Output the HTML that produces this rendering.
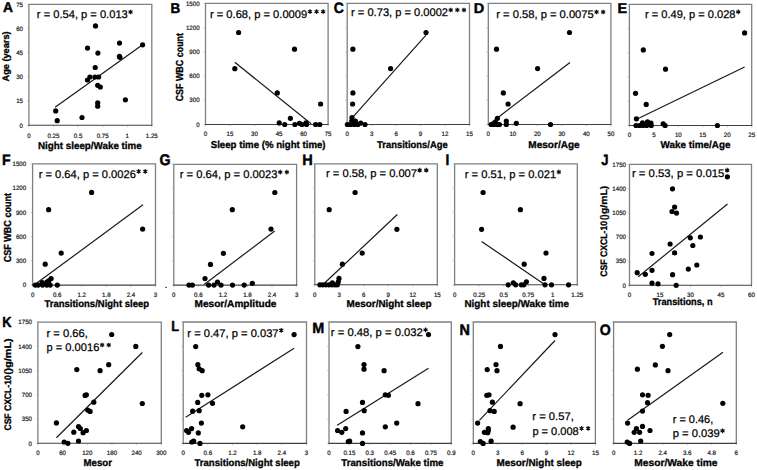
<!DOCTYPE html>
<html><head><meta charset="utf-8"><style>
html,body{margin:0;padding:0;background:#fff;}
svg{display:block;font-family:"Liberation Sans",sans-serif;}
</style></head><body>
<svg width="757" height="470" viewBox="0 0 757 470" text-rendering="geometricPrecision">
<rect width="757" height="470" fill="#fff"/>
<path d="M28.90,125.30V4.30H151.80V125.30" fill="none" stroke="#808080" stroke-width="1.3"/>
<line x1="26.90" y1="125.30" x2="28.90" y2="125.30" stroke="#aaa" stroke-width="0.6"/>
<line x1="26.90" y1="101.10" x2="28.90" y2="101.10" stroke="#aaa" stroke-width="0.6"/>
<line x1="26.90" y1="76.90" x2="28.90" y2="76.90" stroke="#aaa" stroke-width="0.6"/>
<line x1="26.90" y1="52.70" x2="28.90" y2="52.70" stroke="#aaa" stroke-width="0.6"/>
<line x1="26.90" y1="28.50" x2="28.90" y2="28.50" stroke="#aaa" stroke-width="0.6"/>
<line x1="26.90" y1="4.30" x2="28.90" y2="4.30" stroke="#aaa" stroke-width="0.6"/>
<line x1="28.90" y1="125.30" x2="28.90" y2="127.30" stroke="#aaa" stroke-width="0.6"/>
<line x1="53.48" y1="125.30" x2="53.48" y2="127.30" stroke="#aaa" stroke-width="0.6"/>
<line x1="78.06" y1="125.30" x2="78.06" y2="127.30" stroke="#aaa" stroke-width="0.6"/>
<line x1="102.64" y1="125.30" x2="102.64" y2="127.30" stroke="#aaa" stroke-width="0.6"/>
<line x1="127.22" y1="125.30" x2="127.22" y2="127.30" stroke="#aaa" stroke-width="0.6"/>
<line x1="151.80" y1="125.30" x2="151.80" y2="127.30" stroke="#aaa" stroke-width="0.6"/>
<line x1="28.30" y1="125.30" x2="152.40" y2="125.30" stroke="#404040" stroke-width="1.1"/>
<text x="28.90" y="137.51" font-size="6.3" text-anchor="middle" fill="#1a1a1a" stroke="#1a1a1a" stroke-width="0.2" textLength="3.42" lengthAdjust="spacingAndGlyphs">0</text>
<text x="53.48" y="137.51" font-size="6.3" text-anchor="middle" fill="#1a1a1a" stroke="#1a1a1a" stroke-width="0.2" textLength="11.97" lengthAdjust="spacingAndGlyphs">0.25</text>
<text x="78.06" y="137.51" font-size="6.3" text-anchor="middle" fill="#1a1a1a" stroke="#1a1a1a" stroke-width="0.2" textLength="8.55" lengthAdjust="spacingAndGlyphs">0.5</text>
<text x="102.64" y="137.51" font-size="6.3" text-anchor="middle" fill="#1a1a1a" stroke="#1a1a1a" stroke-width="0.2" textLength="11.97" lengthAdjust="spacingAndGlyphs">0.75</text>
<text x="127.22" y="137.51" font-size="6.3" text-anchor="middle" fill="#1a1a1a" stroke="#1a1a1a" stroke-width="0.2" textLength="3.42" lengthAdjust="spacingAndGlyphs">1</text>
<text x="151.80" y="137.51" font-size="6.3" text-anchor="middle" fill="#1a1a1a" stroke="#1a1a1a" stroke-width="0.2" textLength="11.97" lengthAdjust="spacingAndGlyphs">1.25</text>
<text x="23.00" y="127.50" font-size="6.3" text-anchor="end" fill="#1a1a1a" stroke="#1a1a1a" stroke-width="0.2" textLength="3.42" lengthAdjust="spacingAndGlyphs">0</text>
<text x="23.00" y="103.30" font-size="6.3" text-anchor="end" fill="#1a1a1a" stroke="#1a1a1a" stroke-width="0.2" textLength="6.84" lengthAdjust="spacingAndGlyphs">15</text>
<text x="23.00" y="79.11" font-size="6.3" text-anchor="end" fill="#1a1a1a" stroke="#1a1a1a" stroke-width="0.2" textLength="6.84" lengthAdjust="spacingAndGlyphs">30</text>
<text x="23.00" y="54.91" font-size="6.3" text-anchor="end" fill="#1a1a1a" stroke="#1a1a1a" stroke-width="0.2" textLength="6.84" lengthAdjust="spacingAndGlyphs">45</text>
<text x="23.00" y="30.70" font-size="6.3" text-anchor="end" fill="#1a1a1a" stroke="#1a1a1a" stroke-width="0.2" textLength="6.84" lengthAdjust="spacingAndGlyphs">60</text>
<text x="23.00" y="6.50" font-size="6.3" text-anchor="end" fill="#1a1a1a" stroke="#1a1a1a" stroke-width="0.2" textLength="6.84" lengthAdjust="spacingAndGlyphs">75</text>
<line x1="55.1" y1="107.2" x2="142.6" y2="44.8" stroke="#1a1a1a" stroke-width="1.2"/>
<circle cx="95.5" cy="25.9" r="2.6"/>
<circle cx="87.5" cy="48.1" r="2.6"/>
<circle cx="97.9" cy="53.1" r="2.6"/>
<circle cx="119.5" cy="43.1" r="2.6"/>
<circle cx="142.6" cy="44.8" r="2.6"/>
<circle cx="119.5" cy="56.4" r="2.6"/>
<circle cx="119.9" cy="57.3" r="2.6"/>
<circle cx="95.2" cy="67.5" r="2.6"/>
<circle cx="89.9" cy="77.0" r="2.6"/>
<circle cx="94.9" cy="77.0" r="2.6"/>
<circle cx="98.6" cy="77.0" r="2.6"/>
<circle cx="87.5" cy="80.0" r="2.6"/>
<circle cx="97.7" cy="85.3" r="2.6"/>
<circle cx="100.3" cy="87.0" r="2.6"/>
<circle cx="97.7" cy="102.9" r="2.6"/>
<circle cx="97.7" cy="106.2" r="2.6"/>
<circle cx="125.4" cy="99.8" r="2.6"/>
<circle cx="55.7" cy="110.9" r="2.6"/>
<circle cx="57.2" cy="120.7" r="2.6"/>
<circle cx="82.0" cy="117.5" r="2.6"/>
<text x="36.88" y="18.30" font-size="11.1" font-weight="normal" fill="#000" stroke="#000" stroke-width="0.25" textLength="90.90" lengthAdjust="spacingAndGlyphs">r = 0.54, p = 0.013</text>
<path d="M130.55,9.65L130.55,14.35M128.51,10.82L132.59,13.18M132.59,10.82L128.51,13.18" stroke="#111" stroke-width="1.2" fill="none"/>
<circle cx="130.55" cy="12.00" r="1.15" fill="#111"/>
<text x="3.06" y="12.40" font-size="14.35" font-weight="bold" fill="#000" stroke="#000" stroke-width="0.45" textLength="9.92" lengthAdjust="spacingAndGlyphs">A</text>
<text x="37.96" y="148.70" font-size="10.0" font-weight="bold" fill="#000" stroke="#000" stroke-width="0.3" textLength="103.80" lengthAdjust="spacingAndGlyphs">Night sleep/Wake time</text>
<text transform="translate(9.10,81.30) rotate(-90)" x="-0.23" y="0" font-size="9.4" font-weight="bold" fill="#000" stroke="#000" stroke-width="0.3" textLength="50.16" lengthAdjust="spacingAndGlyphs">Age (years)</text>
<path d="M205.50,124.50V3.40H328.10V124.50" fill="none" stroke="#808080" stroke-width="1.3"/>
<line x1="203.50" y1="124.50" x2="205.50" y2="124.50" stroke="#aaa" stroke-width="0.6"/>
<line x1="203.50" y1="100.28" x2="205.50" y2="100.28" stroke="#aaa" stroke-width="0.6"/>
<line x1="203.50" y1="76.06" x2="205.50" y2="76.06" stroke="#aaa" stroke-width="0.6"/>
<line x1="203.50" y1="51.84" x2="205.50" y2="51.84" stroke="#aaa" stroke-width="0.6"/>
<line x1="203.50" y1="27.62" x2="205.50" y2="27.62" stroke="#aaa" stroke-width="0.6"/>
<line x1="203.50" y1="3.40" x2="205.50" y2="3.40" stroke="#aaa" stroke-width="0.6"/>
<line x1="205.50" y1="124.50" x2="205.50" y2="126.50" stroke="#aaa" stroke-width="0.6"/>
<line x1="230.02" y1="124.50" x2="230.02" y2="126.50" stroke="#aaa" stroke-width="0.6"/>
<line x1="254.54" y1="124.50" x2="254.54" y2="126.50" stroke="#aaa" stroke-width="0.6"/>
<line x1="279.06" y1="124.50" x2="279.06" y2="126.50" stroke="#aaa" stroke-width="0.6"/>
<line x1="303.58" y1="124.50" x2="303.58" y2="126.50" stroke="#aaa" stroke-width="0.6"/>
<line x1="328.10" y1="124.50" x2="328.10" y2="126.50" stroke="#aaa" stroke-width="0.6"/>
<line x1="204.90" y1="124.50" x2="328.70" y2="124.50" stroke="#404040" stroke-width="1.1"/>
<text x="205.50" y="136.31" font-size="6.3" text-anchor="middle" fill="#1a1a1a" stroke="#1a1a1a" stroke-width="0.2" textLength="3.42" lengthAdjust="spacingAndGlyphs">0</text>
<text x="230.02" y="136.31" font-size="6.3" text-anchor="middle" fill="#1a1a1a" stroke="#1a1a1a" stroke-width="0.2" textLength="6.84" lengthAdjust="spacingAndGlyphs">15</text>
<text x="254.54" y="136.31" font-size="6.3" text-anchor="middle" fill="#1a1a1a" stroke="#1a1a1a" stroke-width="0.2" textLength="6.84" lengthAdjust="spacingAndGlyphs">30</text>
<text x="279.06" y="136.31" font-size="6.3" text-anchor="middle" fill="#1a1a1a" stroke="#1a1a1a" stroke-width="0.2" textLength="6.84" lengthAdjust="spacingAndGlyphs">45</text>
<text x="303.58" y="136.31" font-size="6.3" text-anchor="middle" fill="#1a1a1a" stroke="#1a1a1a" stroke-width="0.2" textLength="6.84" lengthAdjust="spacingAndGlyphs">60</text>
<text x="328.10" y="136.31" font-size="6.3" text-anchor="middle" fill="#1a1a1a" stroke="#1a1a1a" stroke-width="0.2" textLength="6.84" lengthAdjust="spacingAndGlyphs">75</text>
<text x="199.60" y="126.70" font-size="6.3" text-anchor="end" fill="#1a1a1a" stroke="#1a1a1a" stroke-width="0.2" textLength="3.42" lengthAdjust="spacingAndGlyphs">0</text>
<text x="199.60" y="102.48" font-size="6.3" text-anchor="end" fill="#1a1a1a" stroke="#1a1a1a" stroke-width="0.2" textLength="10.26" lengthAdjust="spacingAndGlyphs">300</text>
<text x="199.60" y="78.27" font-size="6.3" text-anchor="end" fill="#1a1a1a" stroke="#1a1a1a" stroke-width="0.2" textLength="10.26" lengthAdjust="spacingAndGlyphs">600</text>
<text x="199.60" y="54.05" font-size="6.3" text-anchor="end" fill="#1a1a1a" stroke="#1a1a1a" stroke-width="0.2" textLength="10.26" lengthAdjust="spacingAndGlyphs">900</text>
<text x="199.60" y="29.83" font-size="6.3" text-anchor="end" fill="#1a1a1a" stroke="#1a1a1a" stroke-width="0.2" textLength="13.68" lengthAdjust="spacingAndGlyphs">1200</text>
<text x="199.60" y="5.61" font-size="6.3" text-anchor="end" fill="#1a1a1a" stroke="#1a1a1a" stroke-width="0.2" textLength="13.68" lengthAdjust="spacingAndGlyphs">1500</text>
<line x1="234.8" y1="62.3" x2="311.1" y2="123.8" stroke="#1a1a1a" stroke-width="1.2"/>
<circle cx="238.6" cy="32.5" r="2.6"/>
<circle cx="294.5" cy="49.2" r="2.6"/>
<circle cx="234.8" cy="68.7" r="2.6"/>
<circle cx="277.3" cy="92.9" r="2.6"/>
<circle cx="320.6" cy="104.0" r="2.6"/>
<circle cx="290.4" cy="118.3" r="2.6"/>
<circle cx="279.2" cy="122.9" r="2.6"/>
<circle cx="284.7" cy="124.5" r="2.6"/>
<circle cx="294.9" cy="124.5" r="2.6"/>
<circle cx="299.5" cy="123.3" r="2.6"/>
<circle cx="301.9" cy="124.5" r="2.6"/>
<circle cx="306" cy="122.9" r="2.6"/>
<circle cx="306.5" cy="124.5" r="2.6"/>
<circle cx="315.6" cy="124.5" r="2.6"/>
<circle cx="319.8" cy="124.5" r="2.6"/>
<text x="209.98" y="17.90" font-size="11.1" font-weight="normal" fill="#000" stroke="#000" stroke-width="0.25" textLength="97.21" lengthAdjust="spacingAndGlyphs">r = 0.68, p = 0.0009</text>
<path d="M309.95,9.25L309.95,13.95M307.91,10.42L311.99,12.77M311.99,10.42L307.91,12.77" stroke="#111" stroke-width="1.2" fill="none"/>
<circle cx="309.95" cy="11.60" r="1.15" fill="#111"/>
<path d="M316.55,9.25L316.55,13.95M314.51,10.42L318.59,12.77M318.59,10.42L314.51,12.77" stroke="#111" stroke-width="1.2" fill="none"/>
<circle cx="316.55" cy="11.60" r="1.15" fill="#111"/>
<path d="M323.15,9.25L323.15,13.95M321.11,10.42L325.19,12.77M325.19,10.42L321.11,12.77" stroke="#111" stroke-width="1.2" fill="none"/>
<circle cx="323.15" cy="11.60" r="1.15" fill="#111"/>
<text x="170.43" y="12.60" font-size="14.2" font-weight="bold" fill="#000" stroke="#000" stroke-width="0.45" textLength="9.71" lengthAdjust="spacingAndGlyphs">B</text>
<text x="210.71" y="147.70" font-size="10.0" font-weight="bold" fill="#000" stroke="#000" stroke-width="0.3" textLength="114.88" lengthAdjust="spacingAndGlyphs">Sleep time (% night time)</text>
<text transform="translate(182.60,101.00) rotate(-90)" x="-0.36" y="0" font-size="10.2" font-weight="bold" fill="#000" stroke="#000" stroke-width="0.3" textLength="68.35" lengthAdjust="spacingAndGlyphs">CSF WBC count</text>
<path d="M347.20,124.50V3.40H469.50V124.50" fill="none" stroke="#808080" stroke-width="1.3"/>
<line x1="345.20" y1="124.50" x2="347.20" y2="124.50" stroke="#aaa" stroke-width="0.6"/>
<line x1="345.20" y1="100.28" x2="347.20" y2="100.28" stroke="#aaa" stroke-width="0.6"/>
<line x1="345.20" y1="76.06" x2="347.20" y2="76.06" stroke="#aaa" stroke-width="0.6"/>
<line x1="345.20" y1="51.84" x2="347.20" y2="51.84" stroke="#aaa" stroke-width="0.6"/>
<line x1="345.20" y1="27.62" x2="347.20" y2="27.62" stroke="#aaa" stroke-width="0.6"/>
<line x1="345.20" y1="3.40" x2="347.20" y2="3.40" stroke="#aaa" stroke-width="0.6"/>
<line x1="347.20" y1="124.50" x2="347.20" y2="126.50" stroke="#aaa" stroke-width="0.6"/>
<line x1="371.66" y1="124.50" x2="371.66" y2="126.50" stroke="#aaa" stroke-width="0.6"/>
<line x1="396.12" y1="124.50" x2="396.12" y2="126.50" stroke="#aaa" stroke-width="0.6"/>
<line x1="420.58" y1="124.50" x2="420.58" y2="126.50" stroke="#aaa" stroke-width="0.6"/>
<line x1="445.04" y1="124.50" x2="445.04" y2="126.50" stroke="#aaa" stroke-width="0.6"/>
<line x1="469.50" y1="124.50" x2="469.50" y2="126.50" stroke="#aaa" stroke-width="0.6"/>
<line x1="346.60" y1="124.50" x2="470.10" y2="124.50" stroke="#404040" stroke-width="1.1"/>
<text x="347.20" y="136.31" font-size="6.3" text-anchor="middle" fill="#1a1a1a" stroke="#1a1a1a" stroke-width="0.2" textLength="3.42" lengthAdjust="spacingAndGlyphs">0</text>
<text x="371.66" y="136.31" font-size="6.3" text-anchor="middle" fill="#1a1a1a" stroke="#1a1a1a" stroke-width="0.2" textLength="3.42" lengthAdjust="spacingAndGlyphs">3</text>
<text x="396.12" y="136.31" font-size="6.3" text-anchor="middle" fill="#1a1a1a" stroke="#1a1a1a" stroke-width="0.2" textLength="3.42" lengthAdjust="spacingAndGlyphs">6</text>
<text x="420.58" y="136.31" font-size="6.3" text-anchor="middle" fill="#1a1a1a" stroke="#1a1a1a" stroke-width="0.2" textLength="3.42" lengthAdjust="spacingAndGlyphs">9</text>
<text x="445.04" y="136.31" font-size="6.3" text-anchor="middle" fill="#1a1a1a" stroke="#1a1a1a" stroke-width="0.2" textLength="6.84" lengthAdjust="spacingAndGlyphs">12</text>
<text x="469.50" y="136.31" font-size="6.3" text-anchor="middle" fill="#1a1a1a" stroke="#1a1a1a" stroke-width="0.2" textLength="6.84" lengthAdjust="spacingAndGlyphs">15</text>
<line x1="352.6" y1="117.3" x2="426" y2="35.1" stroke="#1a1a1a" stroke-width="1.2"/>
<circle cx="352.9" cy="49.2" r="2.6"/>
<circle cx="426" cy="32.5" r="2.6"/>
<circle cx="390.6" cy="68.6" r="2.6"/>
<circle cx="352.9" cy="92.9" r="2.6"/>
<circle cx="352.6" cy="104" r="2.6"/>
<circle cx="352" cy="117.5" r="2.6"/>
<circle cx="347.4" cy="124.5" r="2.6"/>
<circle cx="350.6" cy="124.5" r="2.6"/>
<circle cx="354.4" cy="124.5" r="2.6"/>
<circle cx="357.8" cy="124.5" r="2.6"/>
<circle cx="355.4" cy="121" r="2.6"/>
<circle cx="351.7" cy="121" r="2.6"/>
<circle cx="360.7" cy="123.1" r="2.6"/>
<circle cx="365" cy="124.5" r="2.6"/>
<text x="351.08" y="16.30" font-size="11.1" font-weight="normal" fill="#000" stroke="#000" stroke-width="0.25" textLength="96.97" lengthAdjust="spacingAndGlyphs">r = 0.73, p = 0.0002</text>
<path d="M450.75,7.65L450.75,12.35M448.71,8.82L452.79,11.18M452.79,8.82L448.71,11.18" stroke="#111" stroke-width="1.2" fill="none"/>
<circle cx="450.75" cy="10.00" r="1.15" fill="#111"/>
<path d="M457.35,7.65L457.35,12.35M455.31,8.82L459.39,11.18M459.39,8.82L455.31,11.18" stroke="#111" stroke-width="1.2" fill="none"/>
<circle cx="457.35" cy="10.00" r="1.15" fill="#111"/>
<path d="M463.95,7.65L463.95,12.35M461.91,8.82L465.99,11.18M465.99,8.82L461.91,11.18" stroke="#111" stroke-width="1.2" fill="none"/>
<circle cx="463.95" cy="10.00" r="1.15" fill="#111"/>
<text x="333.84" y="13.05" font-size="15.07" font-weight="bold" fill="#000" stroke="#000" stroke-width="0.45" textLength="10.14" lengthAdjust="spacingAndGlyphs">C</text>
<text x="377.11" y="147.70" font-size="10.0" font-weight="bold" fill="#000" stroke="#000" stroke-width="0.3" textLength="70.54" lengthAdjust="spacingAndGlyphs">Transitions/Age</text>
<path d="M488.30,124.50V3.40H610.90V124.50" fill="none" stroke="#808080" stroke-width="1.3"/>
<line x1="486.30" y1="124.50" x2="488.30" y2="124.50" stroke="#aaa" stroke-width="0.6"/>
<line x1="486.30" y1="100.28" x2="488.30" y2="100.28" stroke="#aaa" stroke-width="0.6"/>
<line x1="486.30" y1="76.06" x2="488.30" y2="76.06" stroke="#aaa" stroke-width="0.6"/>
<line x1="486.30" y1="51.84" x2="488.30" y2="51.84" stroke="#aaa" stroke-width="0.6"/>
<line x1="486.30" y1="27.62" x2="488.30" y2="27.62" stroke="#aaa" stroke-width="0.6"/>
<line x1="486.30" y1="3.40" x2="488.30" y2="3.40" stroke="#aaa" stroke-width="0.6"/>
<line x1="488.30" y1="124.50" x2="488.30" y2="126.50" stroke="#aaa" stroke-width="0.6"/>
<line x1="512.82" y1="124.50" x2="512.82" y2="126.50" stroke="#aaa" stroke-width="0.6"/>
<line x1="537.34" y1="124.50" x2="537.34" y2="126.50" stroke="#aaa" stroke-width="0.6"/>
<line x1="561.86" y1="124.50" x2="561.86" y2="126.50" stroke="#aaa" stroke-width="0.6"/>
<line x1="586.38" y1="124.50" x2="586.38" y2="126.50" stroke="#aaa" stroke-width="0.6"/>
<line x1="610.90" y1="124.50" x2="610.90" y2="126.50" stroke="#aaa" stroke-width="0.6"/>
<line x1="487.70" y1="124.50" x2="611.50" y2="124.50" stroke="#404040" stroke-width="1.1"/>
<text x="488.30" y="136.31" font-size="6.3" text-anchor="middle" fill="#1a1a1a" stroke="#1a1a1a" stroke-width="0.2" textLength="3.42" lengthAdjust="spacingAndGlyphs">0</text>
<text x="512.82" y="136.31" font-size="6.3" text-anchor="middle" fill="#1a1a1a" stroke="#1a1a1a" stroke-width="0.2" textLength="6.84" lengthAdjust="spacingAndGlyphs">10</text>
<text x="537.34" y="136.31" font-size="6.3" text-anchor="middle" fill="#1a1a1a" stroke="#1a1a1a" stroke-width="0.2" textLength="6.84" lengthAdjust="spacingAndGlyphs">20</text>
<text x="561.86" y="136.31" font-size="6.3" text-anchor="middle" fill="#1a1a1a" stroke="#1a1a1a" stroke-width="0.2" textLength="6.84" lengthAdjust="spacingAndGlyphs">30</text>
<text x="586.38" y="136.31" font-size="6.3" text-anchor="middle" fill="#1a1a1a" stroke="#1a1a1a" stroke-width="0.2" textLength="6.84" lengthAdjust="spacingAndGlyphs">40</text>
<text x="610.90" y="136.31" font-size="6.3" text-anchor="middle" fill="#1a1a1a" stroke="#1a1a1a" stroke-width="0.2" textLength="6.84" lengthAdjust="spacingAndGlyphs">50</text>
<line x1="490.5" y1="123.2" x2="570" y2="62.4" stroke="#1a1a1a" stroke-width="1.2"/>
<circle cx="496.5" cy="49.2" r="2.6"/>
<circle cx="569.5" cy="32.5" r="2.6"/>
<circle cx="537.6" cy="68.6" r="2.6"/>
<circle cx="503.3" cy="92.9" r="2.6"/>
<circle cx="508.1" cy="104" r="2.6"/>
<circle cx="497.4" cy="118.3" r="2.6"/>
<circle cx="506.3" cy="121" r="2.6"/>
<circle cx="506.3" cy="124.5" r="2.6"/>
<circle cx="516.3" cy="123.3" r="2.6"/>
<circle cx="550.5" cy="124.5" r="2.6"/>
<circle cx="491.2" cy="124.5" r="2.6"/>
<circle cx="494" cy="124.5" r="2.6"/>
<circle cx="497" cy="124.5" r="2.6"/>
<circle cx="499.4" cy="124.5" r="2.6"/>
<circle cx="495.5" cy="122.6" r="2.6"/>
<text x="496.27" y="18.30" font-size="11.1" font-weight="normal" fill="#000" stroke="#000" stroke-width="0.25" textLength="97.46" lengthAdjust="spacingAndGlyphs">r = 0.58, p = 0.0075</text>
<path d="M596.55,9.65L596.55,14.35M594.51,10.82L598.59,13.18M598.59,10.82L594.51,13.18" stroke="#111" stroke-width="1.2" fill="none"/>
<circle cx="596.55" cy="12.00" r="1.15" fill="#111"/>
<path d="M603.15,9.65L603.15,14.35M601.11,10.82L605.19,13.18M605.19,10.82L601.11,13.18" stroke="#111" stroke-width="1.2" fill="none"/>
<circle cx="603.15" cy="12.00" r="1.15" fill="#111"/>
<text x="473.76" y="12.60" font-size="14.35" font-weight="bold" fill="#000" stroke="#000" stroke-width="0.45" textLength="10.45" lengthAdjust="spacingAndGlyphs">D</text>
<text x="528.35" y="147.70" font-size="10.0" font-weight="bold" fill="#000" stroke="#000" stroke-width="0.3" textLength="51.33" lengthAdjust="spacingAndGlyphs">Mesor/Age</text>
<path d="M629.40,125.50V4.30H751.70V125.50" fill="none" stroke="#808080" stroke-width="1.3"/>
<line x1="627.40" y1="125.50" x2="629.40" y2="125.50" stroke="#aaa" stroke-width="0.6"/>
<line x1="627.40" y1="101.26" x2="629.40" y2="101.26" stroke="#aaa" stroke-width="0.6"/>
<line x1="627.40" y1="77.02" x2="629.40" y2="77.02" stroke="#aaa" stroke-width="0.6"/>
<line x1="627.40" y1="52.78" x2="629.40" y2="52.78" stroke="#aaa" stroke-width="0.6"/>
<line x1="627.40" y1="28.54" x2="629.40" y2="28.54" stroke="#aaa" stroke-width="0.6"/>
<line x1="627.40" y1="4.30" x2="629.40" y2="4.30" stroke="#aaa" stroke-width="0.6"/>
<line x1="629.40" y1="125.50" x2="629.40" y2="127.50" stroke="#aaa" stroke-width="0.6"/>
<line x1="653.86" y1="125.50" x2="653.86" y2="127.50" stroke="#aaa" stroke-width="0.6"/>
<line x1="678.32" y1="125.50" x2="678.32" y2="127.50" stroke="#aaa" stroke-width="0.6"/>
<line x1="702.78" y1="125.50" x2="702.78" y2="127.50" stroke="#aaa" stroke-width="0.6"/>
<line x1="727.24" y1="125.50" x2="727.24" y2="127.50" stroke="#aaa" stroke-width="0.6"/>
<line x1="751.70" y1="125.50" x2="751.70" y2="127.50" stroke="#aaa" stroke-width="0.6"/>
<line x1="628.80" y1="125.50" x2="752.30" y2="125.50" stroke="#404040" stroke-width="1.1"/>
<text x="629.40" y="137.21" font-size="6.3" text-anchor="middle" fill="#1a1a1a" stroke="#1a1a1a" stroke-width="0.2" textLength="3.42" lengthAdjust="spacingAndGlyphs">0</text>
<text x="653.86" y="137.21" font-size="6.3" text-anchor="middle" fill="#1a1a1a" stroke="#1a1a1a" stroke-width="0.2" textLength="3.42" lengthAdjust="spacingAndGlyphs">5</text>
<text x="678.32" y="137.21" font-size="6.3" text-anchor="middle" fill="#1a1a1a" stroke="#1a1a1a" stroke-width="0.2" textLength="6.84" lengthAdjust="spacingAndGlyphs">10</text>
<text x="702.78" y="137.21" font-size="6.3" text-anchor="middle" fill="#1a1a1a" stroke="#1a1a1a" stroke-width="0.2" textLength="6.84" lengthAdjust="spacingAndGlyphs">15</text>
<text x="727.24" y="137.21" font-size="6.3" text-anchor="middle" fill="#1a1a1a" stroke="#1a1a1a" stroke-width="0.2" textLength="6.84" lengthAdjust="spacingAndGlyphs">20</text>
<text x="751.70" y="137.21" font-size="6.3" text-anchor="middle" fill="#1a1a1a" stroke="#1a1a1a" stroke-width="0.2" textLength="6.84" lengthAdjust="spacingAndGlyphs">25</text>
<line x1="637.7" y1="118.8" x2="744.6" y2="67" stroke="#1a1a1a" stroke-width="1.2"/>
<circle cx="643.3" cy="49.9" r="2.6"/>
<circle cx="744.6" cy="32.9" r="2.6"/>
<circle cx="665.5" cy="69.2" r="2.6"/>
<circle cx="635.5" cy="93.3" r="2.6"/>
<circle cx="646.2" cy="104.4" r="2.6"/>
<circle cx="636.4" cy="118.8" r="2.6"/>
<circle cx="636" cy="125.5" r="2.6"/>
<circle cx="639.5" cy="125.5" r="2.6"/>
<circle cx="643" cy="125.5" r="2.6"/>
<circle cx="646.6" cy="125.5" r="2.6"/>
<circle cx="651.2" cy="125.5" r="2.6"/>
<circle cx="647.5" cy="121.8" r="2.6"/>
<circle cx="642.5" cy="122.9" r="2.6"/>
<circle cx="651" cy="123" r="2.6"/>
<circle cx="663.2" cy="123.8" r="2.6"/>
<circle cx="665.1" cy="125.5" r="2.6"/>
<circle cx="717.4" cy="125.5" r="2.6"/>
<text x="644.98" y="18.20" font-size="11.1" font-weight="normal" fill="#000" stroke="#000" stroke-width="0.25" textLength="90.49" lengthAdjust="spacingAndGlyphs">r = 0.49, p = 0.028</text>
<path d="M738.25,9.55L738.25,14.25M736.21,10.72L740.29,13.07M740.29,10.72L736.21,13.07" stroke="#111" stroke-width="1.2" fill="none"/>
<circle cx="738.25" cy="11.90" r="1.15" fill="#111"/>
<text x="617.47" y="12.60" font-size="14.35" font-weight="bold" fill="#000" stroke="#000" stroke-width="0.45" textLength="9.56" lengthAdjust="spacingAndGlyphs">E</text>
<text x="660.60" y="147.70" font-size="10.0" font-weight="bold" fill="#000" stroke="#000" stroke-width="0.3" textLength="69.86" lengthAdjust="spacingAndGlyphs">Wake time/Age</text>
<path d="M32.60,285.10V163.80H155.50V285.10" fill="none" stroke="#808080" stroke-width="1.3"/>
<line x1="30.60" y1="285.10" x2="32.60" y2="285.10" stroke="#aaa" stroke-width="0.6"/>
<line x1="30.60" y1="260.84" x2="32.60" y2="260.84" stroke="#aaa" stroke-width="0.6"/>
<line x1="30.60" y1="236.58" x2="32.60" y2="236.58" stroke="#aaa" stroke-width="0.6"/>
<line x1="30.60" y1="212.32" x2="32.60" y2="212.32" stroke="#aaa" stroke-width="0.6"/>
<line x1="30.60" y1="188.06" x2="32.60" y2="188.06" stroke="#aaa" stroke-width="0.6"/>
<line x1="30.60" y1="163.80" x2="32.60" y2="163.80" stroke="#aaa" stroke-width="0.6"/>
<line x1="32.60" y1="285.10" x2="32.60" y2="287.10" stroke="#aaa" stroke-width="0.6"/>
<line x1="57.18" y1="285.10" x2="57.18" y2="287.10" stroke="#aaa" stroke-width="0.6"/>
<line x1="81.76" y1="285.10" x2="81.76" y2="287.10" stroke="#aaa" stroke-width="0.6"/>
<line x1="106.34" y1="285.10" x2="106.34" y2="287.10" stroke="#aaa" stroke-width="0.6"/>
<line x1="130.92" y1="285.10" x2="130.92" y2="287.10" stroke="#aaa" stroke-width="0.6"/>
<line x1="155.50" y1="285.10" x2="155.50" y2="287.10" stroke="#aaa" stroke-width="0.6"/>
<line x1="32.00" y1="285.10" x2="156.10" y2="285.10" stroke="#404040" stroke-width="1.1"/>
<text x="32.60" y="296.70" font-size="6.3" text-anchor="middle" fill="#1a1a1a" stroke="#1a1a1a" stroke-width="0.2" textLength="3.42" lengthAdjust="spacingAndGlyphs">0</text>
<text x="57.18" y="296.70" font-size="6.3" text-anchor="middle" fill="#1a1a1a" stroke="#1a1a1a" stroke-width="0.2" textLength="8.55" lengthAdjust="spacingAndGlyphs">0.6</text>
<text x="81.76" y="296.70" font-size="6.3" text-anchor="middle" fill="#1a1a1a" stroke="#1a1a1a" stroke-width="0.2" textLength="8.55" lengthAdjust="spacingAndGlyphs">1.2</text>
<text x="106.34" y="296.70" font-size="6.3" text-anchor="middle" fill="#1a1a1a" stroke="#1a1a1a" stroke-width="0.2" textLength="8.55" lengthAdjust="spacingAndGlyphs">1.8</text>
<text x="130.92" y="296.70" font-size="6.3" text-anchor="middle" fill="#1a1a1a" stroke="#1a1a1a" stroke-width="0.2" textLength="8.55" lengthAdjust="spacingAndGlyphs">2.4</text>
<text x="155.50" y="296.70" font-size="6.3" text-anchor="middle" fill="#1a1a1a" stroke="#1a1a1a" stroke-width="0.2" textLength="3.42" lengthAdjust="spacingAndGlyphs">3</text>
<text x="26.20" y="287.31" font-size="6.3" text-anchor="end" fill="#1a1a1a" stroke="#1a1a1a" stroke-width="0.2" textLength="3.42" lengthAdjust="spacingAndGlyphs">0</text>
<text x="26.20" y="263.05" font-size="6.3" text-anchor="end" fill="#1a1a1a" stroke="#1a1a1a" stroke-width="0.2" textLength="10.26" lengthAdjust="spacingAndGlyphs">300</text>
<text x="26.20" y="238.79" font-size="6.3" text-anchor="end" fill="#1a1a1a" stroke="#1a1a1a" stroke-width="0.2" textLength="10.26" lengthAdjust="spacingAndGlyphs">600</text>
<text x="26.20" y="214.53" font-size="6.3" text-anchor="end" fill="#1a1a1a" stroke="#1a1a1a" stroke-width="0.2" textLength="10.26" lengthAdjust="spacingAndGlyphs">900</text>
<text x="26.20" y="190.27" font-size="6.3" text-anchor="end" fill="#1a1a1a" stroke="#1a1a1a" stroke-width="0.2" textLength="13.68" lengthAdjust="spacingAndGlyphs">1200</text>
<text x="26.20" y="166.01" font-size="6.3" text-anchor="end" fill="#1a1a1a" stroke="#1a1a1a" stroke-width="0.2" textLength="13.68" lengthAdjust="spacingAndGlyphs">1500</text>
<line x1="34.8" y1="284.6" x2="143" y2="204.8" stroke="#1a1a1a" stroke-width="1.2"/>
<circle cx="91.6" cy="192.4" r="2.6"/>
<circle cx="48.6" cy="209.7" r="2.6"/>
<circle cx="142.6" cy="229.1" r="2.6"/>
<circle cx="61.2" cy="253.1" r="2.6"/>
<circle cx="45.2" cy="264.2" r="2.6"/>
<circle cx="51.1" cy="278.6" r="2.6"/>
<circle cx="35.3" cy="285.1" r="2.6"/>
<circle cx="38.2" cy="285.1" r="2.6"/>
<circle cx="42.6" cy="285.1" r="2.6"/>
<circle cx="46.8" cy="285.1" r="2.6"/>
<circle cx="50.2" cy="285.1" r="2.6"/>
<circle cx="57.3" cy="285.1" r="2.6"/>
<circle cx="42.2" cy="282.7" r="2.6"/>
<circle cx="46.8" cy="282" r="2.6"/>
<circle cx="48.7" cy="280.9" r="2.6"/>
<text x="38.68" y="177.70" font-size="11.1" font-weight="normal" fill="#000" stroke="#000" stroke-width="0.25" textLength="97.16" lengthAdjust="spacingAndGlyphs">r = 0.64, p = 0.0026</text>
<path d="M138.65,169.05L138.65,173.75M136.61,170.22L140.69,172.57M140.69,170.22L136.61,172.57" stroke="#111" stroke-width="1.2" fill="none"/>
<circle cx="138.65" cy="171.40" r="1.15" fill="#111"/>
<path d="M145.25,169.05L145.25,173.75M143.21,170.22L147.29,172.57M147.29,170.22L143.21,172.57" stroke="#111" stroke-width="1.2" fill="none"/>
<circle cx="145.25" cy="171.40" r="1.15" fill="#111"/>
<text x="2.08" y="164.50" font-size="14.93" font-weight="bold" fill="#000" stroke="#000" stroke-width="0.45" textLength="8.62" lengthAdjust="spacingAndGlyphs">F</text>
<text x="44.40" y="306.90" font-size="10.0" font-weight="bold" fill="#000" stroke="#000" stroke-width="0.3" textLength="104.70" lengthAdjust="spacingAndGlyphs">Transitions/Night sleep</text>
<text transform="translate(10.90,261.80) rotate(-90)" x="-0.36" y="0" font-size="10.2" font-weight="bold" fill="#000" stroke="#000" stroke-width="0.3" textLength="69.06" lengthAdjust="spacingAndGlyphs">CSF WBC count</text>
<path d="M173.80,285.10V164.30H296.60V285.10" fill="none" stroke="#808080" stroke-width="1.3"/>
<line x1="171.80" y1="285.10" x2="173.80" y2="285.10" stroke="#aaa" stroke-width="0.6"/>
<line x1="171.80" y1="260.94" x2="173.80" y2="260.94" stroke="#aaa" stroke-width="0.6"/>
<line x1="171.80" y1="236.78" x2="173.80" y2="236.78" stroke="#aaa" stroke-width="0.6"/>
<line x1="171.80" y1="212.62" x2="173.80" y2="212.62" stroke="#aaa" stroke-width="0.6"/>
<line x1="171.80" y1="188.46" x2="173.80" y2="188.46" stroke="#aaa" stroke-width="0.6"/>
<line x1="171.80" y1="164.30" x2="173.80" y2="164.30" stroke="#aaa" stroke-width="0.6"/>
<line x1="173.80" y1="285.10" x2="173.80" y2="287.10" stroke="#aaa" stroke-width="0.6"/>
<line x1="198.36" y1="285.10" x2="198.36" y2="287.10" stroke="#aaa" stroke-width="0.6"/>
<line x1="222.92" y1="285.10" x2="222.92" y2="287.10" stroke="#aaa" stroke-width="0.6"/>
<line x1="247.48" y1="285.10" x2="247.48" y2="287.10" stroke="#aaa" stroke-width="0.6"/>
<line x1="272.04" y1="285.10" x2="272.04" y2="287.10" stroke="#aaa" stroke-width="0.6"/>
<line x1="296.60" y1="285.10" x2="296.60" y2="287.10" stroke="#aaa" stroke-width="0.6"/>
<line x1="173.20" y1="285.10" x2="297.20" y2="285.10" stroke="#404040" stroke-width="1.1"/>
<text x="173.80" y="296.70" font-size="6.3" text-anchor="middle" fill="#1a1a1a" stroke="#1a1a1a" stroke-width="0.2" textLength="3.42" lengthAdjust="spacingAndGlyphs">0</text>
<text x="198.36" y="296.70" font-size="6.3" text-anchor="middle" fill="#1a1a1a" stroke="#1a1a1a" stroke-width="0.2" textLength="8.55" lengthAdjust="spacingAndGlyphs">0.6</text>
<text x="222.92" y="296.70" font-size="6.3" text-anchor="middle" fill="#1a1a1a" stroke="#1a1a1a" stroke-width="0.2" textLength="8.55" lengthAdjust="spacingAndGlyphs">1.2</text>
<text x="247.48" y="296.70" font-size="6.3" text-anchor="middle" fill="#1a1a1a" stroke="#1a1a1a" stroke-width="0.2" textLength="8.55" lengthAdjust="spacingAndGlyphs">1.8</text>
<text x="272.04" y="296.70" font-size="6.3" text-anchor="middle" fill="#1a1a1a" stroke="#1a1a1a" stroke-width="0.2" textLength="8.55" lengthAdjust="spacingAndGlyphs">2.4</text>
<text x="296.60" y="296.70" font-size="6.3" text-anchor="middle" fill="#1a1a1a" stroke="#1a1a1a" stroke-width="0.2" textLength="3.42" lengthAdjust="spacingAndGlyphs">3</text>
<line x1="204.2" y1="284.6" x2="274.7" y2="230.9" stroke="#1a1a1a" stroke-width="1.2"/>
<circle cx="274.8" cy="192.5" r="2.6"/>
<circle cx="232.3" cy="209.7" r="2.6"/>
<circle cx="271" cy="229.1" r="2.6"/>
<circle cx="223.4" cy="253.3" r="2.6"/>
<circle cx="210.5" cy="264.4" r="2.6"/>
<circle cx="205" cy="278.6" r="2.6"/>
<circle cx="189" cy="285.1" r="2.6"/>
<circle cx="192.4" cy="285.1" r="2.6"/>
<circle cx="208.6" cy="285.1" r="2.6"/>
<circle cx="214" cy="285.1" r="2.6"/>
<circle cx="217.5" cy="282" r="2.6"/>
<circle cx="221" cy="285.1" r="2.6"/>
<circle cx="232.5" cy="285.1" r="2.6"/>
<circle cx="244.2" cy="285.1" r="2.6"/>
<circle cx="252.3" cy="283.3" r="2.6"/>
<text x="179.77" y="178.40" font-size="11.1" font-weight="normal" fill="#000" stroke="#000" stroke-width="0.25" textLength="97.66" lengthAdjust="spacingAndGlyphs">r = 0.64, p = 0.0023</text>
<path d="M280.25,169.75L280.25,174.45M278.21,170.92L282.29,173.28M282.29,170.92L278.21,173.28" stroke="#111" stroke-width="1.2" fill="none"/>
<circle cx="280.25" cy="172.10" r="1.15" fill="#111"/>
<path d="M286.85,169.75L286.85,174.45M284.81,170.92L288.89,173.28M288.89,170.92L284.81,173.28" stroke="#111" stroke-width="1.2" fill="none"/>
<circle cx="286.85" cy="172.10" r="1.15" fill="#111"/>
<text x="159.53" y="164.75" font-size="15.35" font-weight="bold" fill="#000" stroke="#000" stroke-width="0.45" textLength="11.06" lengthAdjust="spacingAndGlyphs">G</text>
<text x="194.54" y="306.90" font-size="10.0" font-weight="bold" fill="#000" stroke="#000" stroke-width="0.3" textLength="81.93" lengthAdjust="spacingAndGlyphs">Mesor/Amplitude</text>
<path d="M314.80,284.80V163.80H437.30V284.80" fill="none" stroke="#808080" stroke-width="1.3"/>
<line x1="312.80" y1="284.80" x2="314.80" y2="284.80" stroke="#aaa" stroke-width="0.6"/>
<line x1="312.80" y1="260.60" x2="314.80" y2="260.60" stroke="#aaa" stroke-width="0.6"/>
<line x1="312.80" y1="236.40" x2="314.80" y2="236.40" stroke="#aaa" stroke-width="0.6"/>
<line x1="312.80" y1="212.20" x2="314.80" y2="212.20" stroke="#aaa" stroke-width="0.6"/>
<line x1="312.80" y1="188.00" x2="314.80" y2="188.00" stroke="#aaa" stroke-width="0.6"/>
<line x1="312.80" y1="163.80" x2="314.80" y2="163.80" stroke="#aaa" stroke-width="0.6"/>
<line x1="314.80" y1="284.80" x2="314.80" y2="286.80" stroke="#aaa" stroke-width="0.6"/>
<line x1="339.30" y1="284.80" x2="339.30" y2="286.80" stroke="#aaa" stroke-width="0.6"/>
<line x1="363.80" y1="284.80" x2="363.80" y2="286.80" stroke="#aaa" stroke-width="0.6"/>
<line x1="388.30" y1="284.80" x2="388.30" y2="286.80" stroke="#aaa" stroke-width="0.6"/>
<line x1="412.80" y1="284.80" x2="412.80" y2="286.80" stroke="#aaa" stroke-width="0.6"/>
<line x1="437.30" y1="284.80" x2="437.30" y2="286.80" stroke="#aaa" stroke-width="0.6"/>
<line x1="314.20" y1="284.80" x2="437.90" y2="284.80" stroke="#404040" stroke-width="1.1"/>
<text x="314.80" y="296.70" font-size="6.3" text-anchor="middle" fill="#1a1a1a" stroke="#1a1a1a" stroke-width="0.2" textLength="3.42" lengthAdjust="spacingAndGlyphs">0</text>
<text x="339.30" y="296.70" font-size="6.3" text-anchor="middle" fill="#1a1a1a" stroke="#1a1a1a" stroke-width="0.2" textLength="3.42" lengthAdjust="spacingAndGlyphs">3</text>
<text x="363.80" y="296.70" font-size="6.3" text-anchor="middle" fill="#1a1a1a" stroke="#1a1a1a" stroke-width="0.2" textLength="3.42" lengthAdjust="spacingAndGlyphs">6</text>
<text x="388.30" y="296.70" font-size="6.3" text-anchor="middle" fill="#1a1a1a" stroke="#1a1a1a" stroke-width="0.2" textLength="3.42" lengthAdjust="spacingAndGlyphs">9</text>
<text x="412.80" y="296.70" font-size="6.3" text-anchor="middle" fill="#1a1a1a" stroke="#1a1a1a" stroke-width="0.2" textLength="6.84" lengthAdjust="spacingAndGlyphs">12</text>
<text x="437.30" y="296.70" font-size="6.3" text-anchor="middle" fill="#1a1a1a" stroke="#1a1a1a" stroke-width="0.2" textLength="6.84" lengthAdjust="spacingAndGlyphs">15</text>
<line x1="322.8" y1="284.8" x2="397.3" y2="214.5" stroke="#1a1a1a" stroke-width="1.2"/>
<circle cx="355.1" cy="192.5" r="2.6"/>
<circle cx="329.2" cy="209.7" r="2.6"/>
<circle cx="396.9" cy="229.3" r="2.6"/>
<circle cx="362.2" cy="253.1" r="2.6"/>
<circle cx="342.4" cy="264.2" r="2.6"/>
<circle cx="339" cy="278.4" r="2.6"/>
<circle cx="338.3" cy="281.8" r="2.6"/>
<circle cx="332.3" cy="282.8" r="2.6"/>
<circle cx="319.8" cy="284.8" r="2.6"/>
<circle cx="322.8" cy="284.8" r="2.6"/>
<circle cx="325.8" cy="284.8" r="2.6"/>
<circle cx="329" cy="284.8" r="2.6"/>
<circle cx="332" cy="284.8" r="2.6"/>
<circle cx="335" cy="284.8" r="2.6"/>
<circle cx="337.3" cy="284.8" r="2.6"/>
<text x="326.08" y="176.50" font-size="11.1" font-weight="normal" fill="#000" stroke="#000" stroke-width="0.25" textLength="90.91" lengthAdjust="spacingAndGlyphs">r = 0.58, p = 0.007</text>
<path d="M419.65,167.85L419.65,172.55M417.61,169.02L421.69,171.38M421.69,169.02L417.61,171.38" stroke="#111" stroke-width="1.2" fill="none"/>
<circle cx="419.65" cy="170.20" r="1.15" fill="#111"/>
<path d="M426.25,167.85L426.25,172.55M424.21,169.02L428.29,171.38M428.29,169.02L424.21,171.38" stroke="#111" stroke-width="1.2" fill="none"/>
<circle cx="426.25" cy="170.20" r="1.15" fill="#111"/>
<text x="302.15" y="164.50" font-size="14.93" font-weight="bold" fill="#000" stroke="#000" stroke-width="0.45" textLength="10.53" lengthAdjust="spacingAndGlyphs">H</text>
<text x="346.56" y="306.90" font-size="10.0" font-weight="bold" fill="#000" stroke="#000" stroke-width="0.3" textLength="85.07" lengthAdjust="spacingAndGlyphs">Mesor/Night sleep</text>
<path d="M454.60,284.80V163.80H577.30V284.80" fill="none" stroke="#808080" stroke-width="1.3"/>
<line x1="452.60" y1="284.80" x2="454.60" y2="284.80" stroke="#aaa" stroke-width="0.6"/>
<line x1="452.60" y1="260.60" x2="454.60" y2="260.60" stroke="#aaa" stroke-width="0.6"/>
<line x1="452.60" y1="236.40" x2="454.60" y2="236.40" stroke="#aaa" stroke-width="0.6"/>
<line x1="452.60" y1="212.20" x2="454.60" y2="212.20" stroke="#aaa" stroke-width="0.6"/>
<line x1="452.60" y1="188.00" x2="454.60" y2="188.00" stroke="#aaa" stroke-width="0.6"/>
<line x1="452.60" y1="163.80" x2="454.60" y2="163.80" stroke="#aaa" stroke-width="0.6"/>
<line x1="454.60" y1="284.80" x2="454.60" y2="286.80" stroke="#aaa" stroke-width="0.6"/>
<line x1="479.14" y1="284.80" x2="479.14" y2="286.80" stroke="#aaa" stroke-width="0.6"/>
<line x1="503.68" y1="284.80" x2="503.68" y2="286.80" stroke="#aaa" stroke-width="0.6"/>
<line x1="528.22" y1="284.80" x2="528.22" y2="286.80" stroke="#aaa" stroke-width="0.6"/>
<line x1="552.76" y1="284.80" x2="552.76" y2="286.80" stroke="#aaa" stroke-width="0.6"/>
<line x1="577.30" y1="284.80" x2="577.30" y2="286.80" stroke="#aaa" stroke-width="0.6"/>
<line x1="454.00" y1="284.80" x2="577.90" y2="284.80" stroke="#404040" stroke-width="1.1"/>
<text x="454.60" y="296.70" font-size="6.3" text-anchor="middle" fill="#1a1a1a" stroke="#1a1a1a" stroke-width="0.2" textLength="3.42" lengthAdjust="spacingAndGlyphs">0</text>
<text x="479.14" y="296.70" font-size="6.3" text-anchor="middle" fill="#1a1a1a" stroke="#1a1a1a" stroke-width="0.2" textLength="11.97" lengthAdjust="spacingAndGlyphs">0.25</text>
<text x="503.68" y="296.70" font-size="6.3" text-anchor="middle" fill="#1a1a1a" stroke="#1a1a1a" stroke-width="0.2" textLength="8.55" lengthAdjust="spacingAndGlyphs">0.5</text>
<text x="528.22" y="296.70" font-size="6.3" text-anchor="middle" fill="#1a1a1a" stroke="#1a1a1a" stroke-width="0.2" textLength="11.97" lengthAdjust="spacingAndGlyphs">0.75</text>
<text x="552.76" y="296.70" font-size="6.3" text-anchor="middle" fill="#1a1a1a" stroke="#1a1a1a" stroke-width="0.2" textLength="3.42" lengthAdjust="spacingAndGlyphs">1</text>
<text x="577.30" y="296.70" font-size="6.3" text-anchor="middle" fill="#1a1a1a" stroke="#1a1a1a" stroke-width="0.2" textLength="11.97" lengthAdjust="spacingAndGlyphs">1.25</text>
<line x1="481.6" y1="241.4" x2="545" y2="284.8" stroke="#1a1a1a" stroke-width="1.2"/>
<circle cx="483.1" cy="192.5" r="2.6"/>
<circle cx="520.4" cy="209.7" r="2.6"/>
<circle cx="481.6" cy="229.3" r="2.6"/>
<circle cx="546" cy="253.1" r="2.6"/>
<circle cx="524.2" cy="264.2" r="2.6"/>
<circle cx="544" cy="278.4" r="2.6"/>
<circle cx="508.2" cy="284.8" r="2.6"/>
<circle cx="513.3" cy="282.8" r="2.6"/>
<circle cx="515.7" cy="284.8" r="2.6"/>
<circle cx="521.4" cy="284.8" r="2.6"/>
<circle cx="523.8" cy="284.8" r="2.6"/>
<circle cx="526.4" cy="281.8" r="2.6"/>
<circle cx="545" cy="284.8" r="2.6"/>
<circle cx="551.5" cy="284.8" r="2.6"/>
<circle cx="568.6" cy="284.8" r="2.6"/>
<text x="464.77" y="178.30" font-size="11.1" font-weight="normal" fill="#000" stroke="#000" stroke-width="0.25" textLength="91.36" lengthAdjust="spacingAndGlyphs">r = 0.51, p = 0.021</text>
<path d="M558.85,169.65L558.85,174.35M556.81,170.82L560.89,173.18M560.89,170.82L556.81,173.18" stroke="#111" stroke-width="1.2" fill="none"/>
<circle cx="558.85" cy="172.00" r="1.15" fill="#111"/>
<text x="445.50" y="164.60" font-size="15.36" font-weight="bold" fill="#000" stroke="#000" stroke-width="0.45" textLength="3.83" lengthAdjust="spacingAndGlyphs">I</text>
<text x="464.46" y="306.90" font-size="10.0" font-weight="bold" fill="#000" stroke="#000" stroke-width="0.3" textLength="104.51" lengthAdjust="spacingAndGlyphs">Night sleep/Wake time</text>
<path d="M629.50,285.30V164.30H751.50V285.30" fill="none" stroke="#808080" stroke-width="1.3"/>
<line x1="627.50" y1="285.30" x2="629.50" y2="285.30" stroke="#aaa" stroke-width="0.6"/>
<line x1="627.50" y1="261.10" x2="629.50" y2="261.10" stroke="#aaa" stroke-width="0.6"/>
<line x1="627.50" y1="236.90" x2="629.50" y2="236.90" stroke="#aaa" stroke-width="0.6"/>
<line x1="627.50" y1="212.70" x2="629.50" y2="212.70" stroke="#aaa" stroke-width="0.6"/>
<line x1="627.50" y1="188.50" x2="629.50" y2="188.50" stroke="#aaa" stroke-width="0.6"/>
<line x1="627.50" y1="164.30" x2="629.50" y2="164.30" stroke="#aaa" stroke-width="0.6"/>
<line x1="629.50" y1="285.30" x2="629.50" y2="287.30" stroke="#aaa" stroke-width="0.6"/>
<line x1="660.00" y1="285.30" x2="660.00" y2="287.30" stroke="#aaa" stroke-width="0.6"/>
<line x1="690.50" y1="285.30" x2="690.50" y2="287.30" stroke="#aaa" stroke-width="0.6"/>
<line x1="721.00" y1="285.30" x2="721.00" y2="287.30" stroke="#aaa" stroke-width="0.6"/>
<line x1="751.50" y1="285.30" x2="751.50" y2="287.30" stroke="#aaa" stroke-width="0.6"/>
<line x1="628.90" y1="285.30" x2="752.10" y2="285.30" stroke="#404040" stroke-width="1.1"/>
<text x="629.50" y="297.00" font-size="6.3" text-anchor="middle" fill="#1a1a1a" stroke="#1a1a1a" stroke-width="0.2" textLength="3.42" lengthAdjust="spacingAndGlyphs">0</text>
<text x="660.00" y="297.00" font-size="6.3" text-anchor="middle" fill="#1a1a1a" stroke="#1a1a1a" stroke-width="0.2" textLength="6.84" lengthAdjust="spacingAndGlyphs">15</text>
<text x="690.50" y="297.00" font-size="6.3" text-anchor="middle" fill="#1a1a1a" stroke="#1a1a1a" stroke-width="0.2" textLength="6.84" lengthAdjust="spacingAndGlyphs">30</text>
<text x="721.00" y="297.00" font-size="6.3" text-anchor="middle" fill="#1a1a1a" stroke="#1a1a1a" stroke-width="0.2" textLength="6.84" lengthAdjust="spacingAndGlyphs">45</text>
<text x="751.50" y="297.00" font-size="6.3" text-anchor="middle" fill="#1a1a1a" stroke="#1a1a1a" stroke-width="0.2" textLength="6.84" lengthAdjust="spacingAndGlyphs">60</text>
<text x="626.00" y="287.50" font-size="6.3" text-anchor="end" fill="#1a1a1a" stroke="#1a1a1a" stroke-width="0.2" textLength="3.42" lengthAdjust="spacingAndGlyphs">0</text>
<text x="626.00" y="263.31" font-size="6.3" text-anchor="end" fill="#1a1a1a" stroke="#1a1a1a" stroke-width="0.2" textLength="10.26" lengthAdjust="spacingAndGlyphs">350</text>
<text x="626.00" y="239.11" font-size="6.3" text-anchor="end" fill="#1a1a1a" stroke="#1a1a1a" stroke-width="0.2" textLength="10.26" lengthAdjust="spacingAndGlyphs">700</text>
<text x="626.00" y="214.91" font-size="6.3" text-anchor="end" fill="#1a1a1a" stroke="#1a1a1a" stroke-width="0.2" textLength="13.68" lengthAdjust="spacingAndGlyphs">1050</text>
<text x="626.00" y="190.71" font-size="6.3" text-anchor="end" fill="#1a1a1a" stroke="#1a1a1a" stroke-width="0.2" textLength="13.68" lengthAdjust="spacingAndGlyphs">1400</text>
<text x="626.00" y="166.51" font-size="6.3" text-anchor="end" fill="#1a1a1a" stroke="#1a1a1a" stroke-width="0.2" textLength="13.68" lengthAdjust="spacingAndGlyphs">1750</text>
<line x1="638.2" y1="276.8" x2="727.5" y2="204" stroke="#1a1a1a" stroke-width="1.2"/>
<circle cx="727.4" cy="176.8" r="2.6"/>
<circle cx="672.5" cy="188.8" r="2.6"/>
<circle cx="674.6" cy="207.1" r="2.6"/>
<circle cx="672" cy="211.5" r="2.6"/>
<circle cx="676.5" cy="213.1" r="2.6"/>
<circle cx="690.3" cy="237.8" r="2.6"/>
<circle cx="700.4" cy="237" r="2.6"/>
<circle cx="692.8" cy="245.5" r="2.6"/>
<circle cx="670.1" cy="244" r="2.6"/>
<circle cx="674.6" cy="252.9" r="2.6"/>
<circle cx="652" cy="253.5" r="2.6"/>
<circle cx="696.8" cy="265" r="2.6"/>
<circle cx="688.3" cy="269.1" r="2.6"/>
<circle cx="637.2" cy="272.7" r="2.6"/>
<circle cx="645.3" cy="274.3" r="2.6"/>
<circle cx="652" cy="270.3" r="2.6"/>
<circle cx="672.6" cy="274.7" r="2.6"/>
<circle cx="652" cy="283.2" r="2.6"/>
<circle cx="658" cy="283.8" r="2.6"/>
<circle cx="676.2" cy="285.3" r="2.6"/>
<text x="631.96" y="176.50" font-size="11.1" font-weight="normal" fill="#000" stroke="#000" stroke-width="0.25" textLength="92.42" lengthAdjust="spacingAndGlyphs">r = 0.53, p = 0.015</text>
<path d="M727.15,167.85L727.15,172.55M725.11,169.02L729.19,171.38M729.19,169.02L725.11,171.38" stroke="#111" stroke-width="1.2" fill="none"/>
<circle cx="727.15" cy="170.20" r="1.15" fill="#111"/>
<text x="601.20" y="164.65" font-size="14.86" font-weight="bold" fill="#000" stroke="#000" stroke-width="0.45" textLength="7.26" lengthAdjust="spacingAndGlyphs">J</text>
<text x="652.71" y="304.90" font-size="10.0" font-weight="bold" fill="#000" stroke="#000" stroke-width="0.3" textLength="59.85" lengthAdjust="spacingAndGlyphs">Transitions, n</text>
<text transform="translate(606.60,276.50) rotate(-90)" x="-0.35" y="0" font-size="9.4" font-weight="bold" fill="#000" stroke="#000" stroke-width="0.3" textLength="56.00" lengthAdjust="spacingAndGlyphs">CSF CXCL-10</text>
<text transform="translate(606.60,219.60) rotate(-90)" x="-0.40" y="0" font-size="9.4" font-weight="bold" fill="#000" stroke="#000" stroke-width="0.3" textLength="5.38" lengthAdjust="spacingAndGlyphs">()</text>
<text transform="translate(606.60,213.60) rotate(-90)" x="-0.41" y="0" font-size="9.4" font-weight="bold" fill="#000" stroke="#000" stroke-width="0.3" textLength="28.20" lengthAdjust="spacingAndGlyphs">g/mL)</text>
<path d="M37.90,443.30V322.10H161.30V443.30" fill="none" stroke="#808080" stroke-width="1.3"/>
<line x1="35.90" y1="443.30" x2="37.90" y2="443.30" stroke="#aaa" stroke-width="0.6"/>
<line x1="35.90" y1="419.06" x2="37.90" y2="419.06" stroke="#aaa" stroke-width="0.6"/>
<line x1="35.90" y1="394.82" x2="37.90" y2="394.82" stroke="#aaa" stroke-width="0.6"/>
<line x1="35.90" y1="370.58" x2="37.90" y2="370.58" stroke="#aaa" stroke-width="0.6"/>
<line x1="35.90" y1="346.34" x2="37.90" y2="346.34" stroke="#aaa" stroke-width="0.6"/>
<line x1="35.90" y1="322.10" x2="37.90" y2="322.10" stroke="#aaa" stroke-width="0.6"/>
<line x1="37.90" y1="443.30" x2="37.90" y2="445.30" stroke="#aaa" stroke-width="0.6"/>
<line x1="62.58" y1="443.30" x2="62.58" y2="445.30" stroke="#aaa" stroke-width="0.6"/>
<line x1="87.26" y1="443.30" x2="87.26" y2="445.30" stroke="#aaa" stroke-width="0.6"/>
<line x1="111.94" y1="443.30" x2="111.94" y2="445.30" stroke="#aaa" stroke-width="0.6"/>
<line x1="136.62" y1="443.30" x2="136.62" y2="445.30" stroke="#aaa" stroke-width="0.6"/>
<line x1="161.30" y1="443.30" x2="161.30" y2="445.30" stroke="#aaa" stroke-width="0.6"/>
<line x1="37.30" y1="443.30" x2="161.90" y2="443.30" stroke="#404040" stroke-width="1.1"/>
<text x="37.90" y="454.60" font-size="6.3" text-anchor="middle" fill="#1a1a1a" stroke="#1a1a1a" stroke-width="0.2" textLength="3.42" lengthAdjust="spacingAndGlyphs">0</text>
<text x="62.58" y="454.60" font-size="6.3" text-anchor="middle" fill="#1a1a1a" stroke="#1a1a1a" stroke-width="0.2" textLength="6.84" lengthAdjust="spacingAndGlyphs">60</text>
<text x="87.26" y="454.60" font-size="6.3" text-anchor="middle" fill="#1a1a1a" stroke="#1a1a1a" stroke-width="0.2" textLength="10.26" lengthAdjust="spacingAndGlyphs">120</text>
<text x="111.94" y="454.60" font-size="6.3" text-anchor="middle" fill="#1a1a1a" stroke="#1a1a1a" stroke-width="0.2" textLength="10.26" lengthAdjust="spacingAndGlyphs">180</text>
<text x="136.62" y="454.60" font-size="6.3" text-anchor="middle" fill="#1a1a1a" stroke="#1a1a1a" stroke-width="0.2" textLength="10.26" lengthAdjust="spacingAndGlyphs">240</text>
<text x="161.30" y="454.60" font-size="6.3" text-anchor="middle" fill="#1a1a1a" stroke="#1a1a1a" stroke-width="0.2" textLength="10.26" lengthAdjust="spacingAndGlyphs">300</text>
<text x="32.00" y="445.50" font-size="6.3" text-anchor="end" fill="#1a1a1a" stroke="#1a1a1a" stroke-width="0.2" textLength="3.42" lengthAdjust="spacingAndGlyphs">0</text>
<text x="32.00" y="421.26" font-size="6.3" text-anchor="end" fill="#1a1a1a" stroke="#1a1a1a" stroke-width="0.2" textLength="10.26" lengthAdjust="spacingAndGlyphs">350</text>
<text x="32.00" y="397.02" font-size="6.3" text-anchor="end" fill="#1a1a1a" stroke="#1a1a1a" stroke-width="0.2" textLength="10.26" lengthAdjust="spacingAndGlyphs">700</text>
<text x="32.00" y="372.79" font-size="6.3" text-anchor="end" fill="#1a1a1a" stroke="#1a1a1a" stroke-width="0.2" textLength="13.68" lengthAdjust="spacingAndGlyphs">1050</text>
<text x="32.00" y="348.55" font-size="6.3" text-anchor="end" fill="#1a1a1a" stroke="#1a1a1a" stroke-width="0.2" textLength="13.68" lengthAdjust="spacingAndGlyphs">1400</text>
<text x="32.00" y="324.31" font-size="6.3" text-anchor="end" fill="#1a1a1a" stroke="#1a1a1a" stroke-width="0.2" textLength="13.68" lengthAdjust="spacingAndGlyphs">1750</text>
<line x1="56.4" y1="437.7" x2="142.3" y2="352.5" stroke="#1a1a1a" stroke-width="1.2"/>
<circle cx="111.7" cy="334.5" r="2.6"/>
<circle cx="135.8" cy="346.4" r="2.6"/>
<circle cx="76.8" cy="369.6" r="2.6"/>
<circle cx="100.1" cy="370.7" r="2.6"/>
<circle cx="108.7" cy="364.7" r="2.6"/>
<circle cx="85.1" cy="395.4" r="2.6"/>
<circle cx="86.4" cy="394.8" r="2.6"/>
<circle cx="93.8" cy="402.2" r="2.6"/>
<circle cx="142.3" cy="403.5" r="2.6"/>
<circle cx="87.7" cy="410.1" r="2.6"/>
<circle cx="90.1" cy="411.4" r="2.6"/>
<circle cx="56.4" cy="422.9" r="2.6"/>
<circle cx="78.5" cy="426.6" r="2.6"/>
<circle cx="80.3" cy="428.5" r="2.6"/>
<circle cx="73.8" cy="432.2" r="2.6"/>
<circle cx="83.1" cy="432.7" r="2.6"/>
<circle cx="86.4" cy="430.5" r="2.6"/>
<circle cx="64.2" cy="442" r="2.6"/>
<circle cx="67.9" cy="443.3" r="2.6"/>
<circle cx="78.5" cy="441" r="2.6"/>
<text x="46.47" y="336.80" font-size="11.1" font-weight="normal" fill="#000" stroke="#000" stroke-width="0.25" textLength="41.40" lengthAdjust="spacingAndGlyphs">r = 0.66,</text>
<text x="46.48" y="351.30" font-size="11.1" font-weight="normal" fill="#000" stroke="#000" stroke-width="0.25" textLength="52.86" lengthAdjust="spacingAndGlyphs">p = 0.0016</text>
<path d="M102.15,342.65L102.15,347.35M100.11,343.82L104.19,346.18M104.19,343.82L100.11,346.18" stroke="#111" stroke-width="1.2" fill="none"/>
<circle cx="102.15" cy="345.00" r="1.15" fill="#111"/>
<path d="M108.75,342.65L108.75,347.35M106.71,343.82L110.79,346.18M110.79,343.82L106.71,346.18" stroke="#111" stroke-width="1.2" fill="none"/>
<circle cx="108.75" cy="345.00" r="1.15" fill="#111"/>
<text x="2.36" y="327.40" font-size="14.64" font-weight="bold" fill="#000" stroke="#000" stroke-width="0.45" textLength="9.29" lengthAdjust="spacingAndGlyphs">K</text>
<text x="83.57" y="466.00" font-size="10.0" font-weight="bold" fill="#000" stroke="#000" stroke-width="0.3" textLength="28.37" lengthAdjust="spacingAndGlyphs">Mesor</text>
<text transform="translate(10.90,430.20) rotate(-90)" x="-0.34" y="0" font-size="9.4" font-weight="bold" fill="#000" stroke="#000" stroke-width="0.3" textLength="55.19" lengthAdjust="spacingAndGlyphs">CSF CXCL-10</text>
<text transform="translate(10.90,374.10) rotate(-90)" x="-0.48" y="0" font-size="9.4" font-weight="bold" fill="#000" stroke="#000" stroke-width="0.3" textLength="6.43" lengthAdjust="spacingAndGlyphs">()</text>
<text transform="translate(10.90,367.30) rotate(-90)" x="-0.43" y="0" font-size="9.4" font-weight="bold" fill="#000" stroke="#000" stroke-width="0.3" textLength="29.33" lengthAdjust="spacingAndGlyphs">g/mL)</text>
<path d="M183.20,443.40V322.00H306.50V443.40" fill="none" stroke="#808080" stroke-width="1.3"/>
<line x1="181.20" y1="443.40" x2="183.20" y2="443.40" stroke="#aaa" stroke-width="0.6"/>
<line x1="181.20" y1="419.12" x2="183.20" y2="419.12" stroke="#aaa" stroke-width="0.6"/>
<line x1="181.20" y1="394.84" x2="183.20" y2="394.84" stroke="#aaa" stroke-width="0.6"/>
<line x1="181.20" y1="370.56" x2="183.20" y2="370.56" stroke="#aaa" stroke-width="0.6"/>
<line x1="181.20" y1="346.28" x2="183.20" y2="346.28" stroke="#aaa" stroke-width="0.6"/>
<line x1="181.20" y1="322.00" x2="183.20" y2="322.00" stroke="#aaa" stroke-width="0.6"/>
<line x1="183.20" y1="443.40" x2="183.20" y2="445.40" stroke="#aaa" stroke-width="0.6"/>
<line x1="207.86" y1="443.40" x2="207.86" y2="445.40" stroke="#aaa" stroke-width="0.6"/>
<line x1="232.52" y1="443.40" x2="232.52" y2="445.40" stroke="#aaa" stroke-width="0.6"/>
<line x1="257.18" y1="443.40" x2="257.18" y2="445.40" stroke="#aaa" stroke-width="0.6"/>
<line x1="281.84" y1="443.40" x2="281.84" y2="445.40" stroke="#aaa" stroke-width="0.6"/>
<line x1="306.50" y1="443.40" x2="306.50" y2="445.40" stroke="#aaa" stroke-width="0.6"/>
<line x1="182.60" y1="443.40" x2="307.10" y2="443.40" stroke="#404040" stroke-width="1.1"/>
<text x="183.20" y="454.60" font-size="6.3" text-anchor="middle" fill="#1a1a1a" stroke="#1a1a1a" stroke-width="0.2" textLength="3.42" lengthAdjust="spacingAndGlyphs">0</text>
<text x="207.86" y="454.60" font-size="6.3" text-anchor="middle" fill="#1a1a1a" stroke="#1a1a1a" stroke-width="0.2" textLength="8.55" lengthAdjust="spacingAndGlyphs">0.6</text>
<text x="232.52" y="454.60" font-size="6.3" text-anchor="middle" fill="#1a1a1a" stroke="#1a1a1a" stroke-width="0.2" textLength="8.55" lengthAdjust="spacingAndGlyphs">1.2</text>
<text x="257.18" y="454.60" font-size="6.3" text-anchor="middle" fill="#1a1a1a" stroke="#1a1a1a" stroke-width="0.2" textLength="8.55" lengthAdjust="spacingAndGlyphs">1.8</text>
<text x="281.84" y="454.60" font-size="6.3" text-anchor="middle" fill="#1a1a1a" stroke="#1a1a1a" stroke-width="0.2" textLength="8.55" lengthAdjust="spacingAndGlyphs">2.4</text>
<text x="306.50" y="454.60" font-size="6.3" text-anchor="middle" fill="#1a1a1a" stroke="#1a1a1a" stroke-width="0.2" textLength="3.42" lengthAdjust="spacingAndGlyphs">3</text>
<line x1="185.7" y1="417.2" x2="294.1" y2="348.3" stroke="#1a1a1a" stroke-width="1.2"/>
<circle cx="294.1" cy="334.6" r="2.6"/>
<circle cx="195.7" cy="346.6" r="2.6"/>
<circle cx="197.9" cy="364.7" r="2.6"/>
<circle cx="199.2" cy="368.8" r="2.6"/>
<circle cx="202.2" cy="370.7" r="2.6"/>
<circle cx="201.8" cy="395.3" r="2.6"/>
<circle cx="207.9" cy="394.8" r="2.6"/>
<circle cx="197.7" cy="402.4" r="2.6"/>
<circle cx="212.5" cy="403.3" r="2.6"/>
<circle cx="192.7" cy="411.2" r="2.6"/>
<circle cx="199.2" cy="410.7" r="2.6"/>
<circle cx="201.4" cy="423.1" r="2.6"/>
<circle cx="186.6" cy="430.5" r="2.6"/>
<circle cx="188.5" cy="432.3" r="2.6"/>
<circle cx="191.6" cy="428.6" r="2.6"/>
<circle cx="198.3" cy="432.9" r="2.6"/>
<circle cx="242.7" cy="426.8" r="2.6"/>
<circle cx="191.8" cy="442" r="2.6"/>
<circle cx="193.7" cy="441.2" r="2.6"/>
<circle cx="200" cy="443.4" r="2.6"/>
<text x="187.37" y="336.60" font-size="11.1" font-weight="normal" fill="#000" stroke="#000" stroke-width="0.25" textLength="91.22" lengthAdjust="spacingAndGlyphs">r = 0.47, p = 0.037</text>
<path d="M281.25,327.95L281.25,332.65M279.21,329.12L283.29,331.48M283.29,329.12L279.21,331.48" stroke="#111" stroke-width="1.2" fill="none"/>
<circle cx="281.25" cy="330.30" r="1.15" fill="#111"/>
<text x="171.27" y="331.40" font-size="14.49" font-weight="bold" fill="#000" stroke="#000" stroke-width="0.45" textLength="7.83" lengthAdjust="spacingAndGlyphs">L</text>
<text x="194.50" y="466.00" font-size="10.0" font-weight="bold" fill="#000" stroke="#000" stroke-width="0.3" textLength="105.30" lengthAdjust="spacingAndGlyphs">Transitions/Night sleep</text>
<path d="M329.00,443.40V322.00H451.30V443.40" fill="none" stroke="#808080" stroke-width="1.3"/>
<line x1="327.00" y1="443.40" x2="329.00" y2="443.40" stroke="#aaa" stroke-width="0.6"/>
<line x1="327.00" y1="419.12" x2="329.00" y2="419.12" stroke="#aaa" stroke-width="0.6"/>
<line x1="327.00" y1="394.84" x2="329.00" y2="394.84" stroke="#aaa" stroke-width="0.6"/>
<line x1="327.00" y1="370.56" x2="329.00" y2="370.56" stroke="#aaa" stroke-width="0.6"/>
<line x1="327.00" y1="346.28" x2="329.00" y2="346.28" stroke="#aaa" stroke-width="0.6"/>
<line x1="327.00" y1="322.00" x2="329.00" y2="322.00" stroke="#aaa" stroke-width="0.6"/>
<line x1="329.00" y1="443.40" x2="329.00" y2="445.40" stroke="#aaa" stroke-width="0.6"/>
<line x1="349.38" y1="443.40" x2="349.38" y2="445.40" stroke="#aaa" stroke-width="0.6"/>
<line x1="369.77" y1="443.40" x2="369.77" y2="445.40" stroke="#aaa" stroke-width="0.6"/>
<line x1="390.15" y1="443.40" x2="390.15" y2="445.40" stroke="#aaa" stroke-width="0.6"/>
<line x1="410.53" y1="443.40" x2="410.53" y2="445.40" stroke="#aaa" stroke-width="0.6"/>
<line x1="430.92" y1="443.40" x2="430.92" y2="445.40" stroke="#aaa" stroke-width="0.6"/>
<line x1="451.30" y1="443.40" x2="451.30" y2="445.40" stroke="#aaa" stroke-width="0.6"/>
<line x1="328.40" y1="443.40" x2="451.90" y2="443.40" stroke="#404040" stroke-width="1.1"/>
<text x="329.00" y="454.60" font-size="6.3" text-anchor="middle" fill="#1a1a1a" stroke="#1a1a1a" stroke-width="0.2" textLength="3.42" lengthAdjust="spacingAndGlyphs">0</text>
<text x="349.38" y="454.60" font-size="6.3" text-anchor="middle" fill="#1a1a1a" stroke="#1a1a1a" stroke-width="0.2" textLength="11.97" lengthAdjust="spacingAndGlyphs">0.15</text>
<text x="369.77" y="454.60" font-size="6.3" text-anchor="middle" fill="#1a1a1a" stroke="#1a1a1a" stroke-width="0.2" textLength="8.55" lengthAdjust="spacingAndGlyphs">0.3</text>
<text x="390.15" y="454.60" font-size="6.3" text-anchor="middle" fill="#1a1a1a" stroke="#1a1a1a" stroke-width="0.2" textLength="11.97" lengthAdjust="spacingAndGlyphs">0.45</text>
<text x="410.53" y="454.60" font-size="6.3" text-anchor="middle" fill="#1a1a1a" stroke="#1a1a1a" stroke-width="0.2" textLength="8.55" lengthAdjust="spacingAndGlyphs">0.6</text>
<text x="430.92" y="454.60" font-size="6.3" text-anchor="middle" fill="#1a1a1a" stroke="#1a1a1a" stroke-width="0.2" textLength="11.97" lengthAdjust="spacingAndGlyphs">0.75</text>
<text x="451.30" y="454.60" font-size="6.3" text-anchor="middle" fill="#1a1a1a" stroke="#1a1a1a" stroke-width="0.2" textLength="8.55" lengthAdjust="spacingAndGlyphs">0.9</text>
<line x1="337.2" y1="425.3" x2="428.5" y2="368.3" stroke="#1a1a1a" stroke-width="1.2"/>
<circle cx="428.5" cy="334.6" r="2.6"/>
<circle cx="357.9" cy="346.6" r="2.6"/>
<circle cx="364" cy="364.6" r="2.6"/>
<circle cx="364" cy="369.2" r="2.6"/>
<circle cx="384.1" cy="370.7" r="2.6"/>
<circle cx="385.3" cy="394.8" r="2.6"/>
<circle cx="388.4" cy="395.3" r="2.6"/>
<circle cx="362.5" cy="402.4" r="2.6"/>
<circle cx="418" cy="403.7" r="2.6"/>
<circle cx="346.1" cy="411.4" r="2.6"/>
<circle cx="364.2" cy="410.7" r="2.6"/>
<circle cx="396.7" cy="423.1" r="2.6"/>
<circle cx="385.3" cy="426.8" r="2.6"/>
<circle cx="337.6" cy="430.5" r="2.6"/>
<circle cx="341.8" cy="432.3" r="2.6"/>
<circle cx="345.7" cy="428.6" r="2.6"/>
<circle cx="362.5" cy="432.9" r="2.6"/>
<circle cx="348.3" cy="441.6" r="2.6"/>
<circle cx="349.6" cy="441.2" r="2.6"/>
<circle cx="362.5" cy="443.4" r="2.6"/>
<text x="330.87" y="336.20" font-size="11.1" font-weight="normal" fill="#000" stroke="#000" stroke-width="0.25" textLength="92.03" lengthAdjust="spacingAndGlyphs">r = 0.48, p = 0.032</text>
<path d="M425.55,327.55L425.55,332.25M423.51,328.72L427.59,331.07M427.59,328.72L423.51,331.07" stroke="#111" stroke-width="1.2" fill="none"/>
<circle cx="425.55" cy="329.90" r="1.15" fill="#111"/>
<text x="312.16" y="333.40" font-size="15.07" font-weight="bold" fill="#000" stroke="#000" stroke-width="0.45" textLength="12.02" lengthAdjust="spacingAndGlyphs">M</text>
<text x="341.30" y="466.00" font-size="10.0" font-weight="bold" fill="#000" stroke="#000" stroke-width="0.3" textLength="102.15" lengthAdjust="spacingAndGlyphs">Transitions/Wake time</text>
<path d="M473.30,443.40V322.00H595.40V443.40" fill="none" stroke="#808080" stroke-width="1.3"/>
<line x1="471.30" y1="443.40" x2="473.30" y2="443.40" stroke="#aaa" stroke-width="0.6"/>
<line x1="471.30" y1="419.12" x2="473.30" y2="419.12" stroke="#aaa" stroke-width="0.6"/>
<line x1="471.30" y1="394.84" x2="473.30" y2="394.84" stroke="#aaa" stroke-width="0.6"/>
<line x1="471.30" y1="370.56" x2="473.30" y2="370.56" stroke="#aaa" stroke-width="0.6"/>
<line x1="471.30" y1="346.28" x2="473.30" y2="346.28" stroke="#aaa" stroke-width="0.6"/>
<line x1="471.30" y1="322.00" x2="473.30" y2="322.00" stroke="#aaa" stroke-width="0.6"/>
<line x1="473.30" y1="443.40" x2="473.30" y2="445.40" stroke="#aaa" stroke-width="0.6"/>
<line x1="497.72" y1="443.40" x2="497.72" y2="445.40" stroke="#aaa" stroke-width="0.6"/>
<line x1="522.14" y1="443.40" x2="522.14" y2="445.40" stroke="#aaa" stroke-width="0.6"/>
<line x1="546.56" y1="443.40" x2="546.56" y2="445.40" stroke="#aaa" stroke-width="0.6"/>
<line x1="570.98" y1="443.40" x2="570.98" y2="445.40" stroke="#aaa" stroke-width="0.6"/>
<line x1="595.40" y1="443.40" x2="595.40" y2="445.40" stroke="#aaa" stroke-width="0.6"/>
<line x1="472.70" y1="443.40" x2="596.00" y2="443.40" stroke="#404040" stroke-width="1.1"/>
<text x="473.30" y="454.60" font-size="6.3" text-anchor="middle" fill="#1a1a1a" stroke="#1a1a1a" stroke-width="0.2" textLength="3.42" lengthAdjust="spacingAndGlyphs">0</text>
<text x="497.72" y="454.60" font-size="6.3" text-anchor="middle" fill="#1a1a1a" stroke="#1a1a1a" stroke-width="0.2" textLength="3.42" lengthAdjust="spacingAndGlyphs">3</text>
<text x="522.14" y="454.60" font-size="6.3" text-anchor="middle" fill="#1a1a1a" stroke="#1a1a1a" stroke-width="0.2" textLength="3.42" lengthAdjust="spacingAndGlyphs">6</text>
<text x="546.56" y="454.60" font-size="6.3" text-anchor="middle" fill="#1a1a1a" stroke="#1a1a1a" stroke-width="0.2" textLength="3.42" lengthAdjust="spacingAndGlyphs">9</text>
<text x="570.98" y="454.60" font-size="6.3" text-anchor="middle" fill="#1a1a1a" stroke="#1a1a1a" stroke-width="0.2" textLength="6.84" lengthAdjust="spacingAndGlyphs">12</text>
<text x="595.40" y="454.60" font-size="6.3" text-anchor="middle" fill="#1a1a1a" stroke="#1a1a1a" stroke-width="0.2" textLength="6.84" lengthAdjust="spacingAndGlyphs">15</text>
<line x1="479.4" y1="420.3" x2="555" y2="340.5" stroke="#1a1a1a" stroke-width="1.2"/>
<circle cx="555" cy="334.6" r="2.6"/>
<circle cx="500.5" cy="346.4" r="2.6"/>
<circle cx="496" cy="364.6" r="2.6"/>
<circle cx="487.2" cy="369.6" r="2.6"/>
<circle cx="497" cy="370.7" r="2.6"/>
<circle cx="486.8" cy="395.3" r="2.6"/>
<circle cx="489" cy="394.8" r="2.6"/>
<circle cx="492.4" cy="402.2" r="2.6"/>
<circle cx="520.1" cy="403.7" r="2.6"/>
<circle cx="490" cy="410.7" r="2.6"/>
<circle cx="494.2" cy="411.4" r="2.6"/>
<circle cx="477.6" cy="423.1" r="2.6"/>
<circle cx="513.1" cy="427.2" r="2.6"/>
<circle cx="488.3" cy="428.6" r="2.6"/>
<circle cx="488.3" cy="430.5" r="2.6"/>
<circle cx="484.4" cy="432.3" r="2.6"/>
<circle cx="487.7" cy="432.7" r="2.6"/>
<circle cx="480.3" cy="441.6" r="2.6"/>
<circle cx="483.1" cy="443.4" r="2.6"/>
<circle cx="491.1" cy="441.2" r="2.6"/>
<text x="532.37" y="420.30" font-size="11.1" font-weight="normal" fill="#000" stroke="#000" stroke-width="0.25" textLength="41.40" lengthAdjust="spacingAndGlyphs">r = 0.57,</text>
<text x="532.38" y="434.70" font-size="11.1" font-weight="normal" fill="#000" stroke="#000" stroke-width="0.25" textLength="46.40" lengthAdjust="spacingAndGlyphs">p = 0.008</text>
<path d="M581.55,426.05L581.55,430.75M579.51,427.22L583.59,429.57M583.59,427.22L579.51,429.57" stroke="#111" stroke-width="1.2" fill="none"/>
<circle cx="581.55" cy="428.40" r="1.15" fill="#111"/>
<path d="M588.15,426.05L588.15,430.75M586.11,427.22L590.19,429.57M590.19,427.22L586.11,429.57" stroke="#111" stroke-width="1.2" fill="none"/>
<circle cx="588.15" cy="428.40" r="1.15" fill="#111"/>
<text x="459.46" y="334.70" font-size="15.22" font-weight="bold" fill="#000" stroke="#000" stroke-width="0.45" textLength="10.40" lengthAdjust="spacingAndGlyphs">N</text>
<text x="496.56" y="466.00" font-size="10.0" font-weight="bold" fill="#000" stroke="#000" stroke-width="0.3" textLength="85.27" lengthAdjust="spacingAndGlyphs">Mesor/Night sleep</text>
<path d="M613.60,443.40V322.00H736.30V443.40" fill="none" stroke="#808080" stroke-width="1.3"/>
<line x1="611.60" y1="443.40" x2="613.60" y2="443.40" stroke="#aaa" stroke-width="0.6"/>
<line x1="611.60" y1="419.12" x2="613.60" y2="419.12" stroke="#aaa" stroke-width="0.6"/>
<line x1="611.60" y1="394.84" x2="613.60" y2="394.84" stroke="#aaa" stroke-width="0.6"/>
<line x1="611.60" y1="370.56" x2="613.60" y2="370.56" stroke="#aaa" stroke-width="0.6"/>
<line x1="611.60" y1="346.28" x2="613.60" y2="346.28" stroke="#aaa" stroke-width="0.6"/>
<line x1="611.60" y1="322.00" x2="613.60" y2="322.00" stroke="#aaa" stroke-width="0.6"/>
<line x1="613.60" y1="443.40" x2="613.60" y2="445.40" stroke="#aaa" stroke-width="0.6"/>
<line x1="638.14" y1="443.40" x2="638.14" y2="445.40" stroke="#aaa" stroke-width="0.6"/>
<line x1="662.68" y1="443.40" x2="662.68" y2="445.40" stroke="#aaa" stroke-width="0.6"/>
<line x1="687.22" y1="443.40" x2="687.22" y2="445.40" stroke="#aaa" stroke-width="0.6"/>
<line x1="711.76" y1="443.40" x2="711.76" y2="445.40" stroke="#aaa" stroke-width="0.6"/>
<line x1="736.30" y1="443.40" x2="736.30" y2="445.40" stroke="#aaa" stroke-width="0.6"/>
<line x1="613.00" y1="443.40" x2="736.90" y2="443.40" stroke="#404040" stroke-width="1.1"/>
<text x="613.60" y="454.60" font-size="6.3" text-anchor="middle" fill="#1a1a1a" stroke="#1a1a1a" stroke-width="0.2" textLength="3.42" lengthAdjust="spacingAndGlyphs">0</text>
<text x="638.14" y="454.60" font-size="6.3" text-anchor="middle" fill="#1a1a1a" stroke="#1a1a1a" stroke-width="0.2" textLength="8.55" lengthAdjust="spacingAndGlyphs">1.2</text>
<text x="662.68" y="454.60" font-size="6.3" text-anchor="middle" fill="#1a1a1a" stroke="#1a1a1a" stroke-width="0.2" textLength="8.55" lengthAdjust="spacingAndGlyphs">2.4</text>
<text x="687.22" y="454.60" font-size="6.3" text-anchor="middle" fill="#1a1a1a" stroke="#1a1a1a" stroke-width="0.2" textLength="8.55" lengthAdjust="spacingAndGlyphs">3.6</text>
<text x="711.76" y="454.60" font-size="6.3" text-anchor="middle" fill="#1a1a1a" stroke="#1a1a1a" stroke-width="0.2" textLength="8.55" lengthAdjust="spacingAndGlyphs">4.8</text>
<text x="736.30" y="454.60" font-size="6.3" text-anchor="middle" fill="#1a1a1a" stroke="#1a1a1a" stroke-width="0.2" textLength="3.42" lengthAdjust="spacingAndGlyphs">6</text>
<line x1="627.6" y1="420.3" x2="723" y2="352.2" stroke="#1a1a1a" stroke-width="1.2"/>
<circle cx="669.7" cy="334.6" r="2.6"/>
<circle cx="662.4" cy="346.3" r="2.6"/>
<circle cx="655.3" cy="364.9" r="2.6"/>
<circle cx="637.4" cy="369.2" r="2.6"/>
<circle cx="668" cy="370.7" r="2.6"/>
<circle cx="642.5" cy="394.8" r="2.6"/>
<circle cx="648.1" cy="395.3" r="2.6"/>
<circle cx="647.5" cy="402.7" r="2.6"/>
<circle cx="722.8" cy="403.3" r="2.6"/>
<circle cx="642.5" cy="411.1" r="2.6"/>
<circle cx="627.6" cy="423.1" r="2.6"/>
<circle cx="642.5" cy="426.4" r="2.6"/>
<circle cx="650" cy="430.5" r="2.6"/>
<circle cx="636.4" cy="428.6" r="2.6"/>
<circle cx="634.2" cy="432.3" r="2.6"/>
<circle cx="639.6" cy="432.3" r="2.6"/>
<circle cx="640.7" cy="441" r="2.6"/>
<circle cx="627.2" cy="442" r="2.6"/>
<circle cx="629.6" cy="443.4" r="2.6"/>
<text x="672.69" y="423.30" font-size="11.1" font-weight="normal" fill="#000" stroke="#000" stroke-width="0.25" textLength="40.57" lengthAdjust="spacingAndGlyphs">r = 0.46,</text>
<text x="672.67" y="437.10" font-size="11.1" font-weight="normal" fill="#000" stroke="#000" stroke-width="0.25" textLength="47.17" lengthAdjust="spacingAndGlyphs">p = 0.039</text>
<path d="M722.55,428.45L722.55,433.15M720.51,429.62L724.59,431.98M724.59,429.62L720.51,431.98" stroke="#111" stroke-width="1.2" fill="none"/>
<circle cx="722.55" cy="430.80" r="1.15" fill="#111"/>
<text x="599.84" y="335.35" font-size="14.93" font-weight="bold" fill="#000" stroke="#000" stroke-width="0.45" textLength="10.97" lengthAdjust="spacingAndGlyphs">O</text>
<text x="634.23" y="466.00" font-size="10.0" font-weight="bold" fill="#000" stroke="#000" stroke-width="0.3" textLength="83.35" lengthAdjust="spacingAndGlyphs">Mesor/Wake time</text>
<rect x="165.0" y="286.8" width="2" height="1" fill="#444"/>
</svg>
</body></html>
